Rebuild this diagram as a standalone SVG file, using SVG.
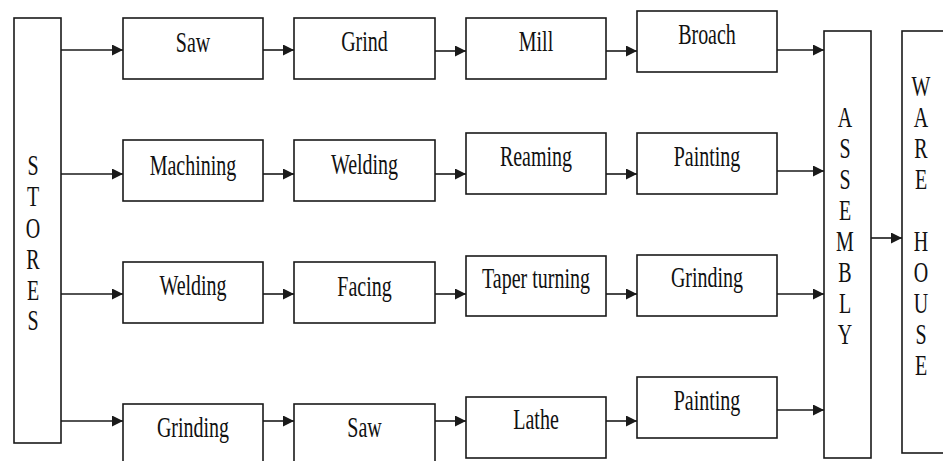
<svg xmlns="http://www.w3.org/2000/svg" width="943" height="461" viewBox="0 0 943 461">
  <style>
    .box { fill: #ffffff; stroke: #1a1a1a; stroke-width: 1.6; }
    .lbl { font-family: "Liberation Serif", "Times New Roman", serif; font-size: 20px; fill: #111111; text-anchor: middle; }
    .wire { stroke: #1a1a1a; stroke-width: 1.6; fill: none; marker-end: url(#head); }
  </style>
  <defs>
    <marker id="head" markerUnits="userSpaceOnUse" viewBox="0 0 11 11" markerWidth="11" markerHeight="11" refX="11" refY="5.5" orient="auto">
      <path d="M0,0 L11,5.5 L0,11 z" fill="#1a1a1a"/>
    </marker>
  </defs>
  <rect width="943" height="461" fill="#ffffff"/>

  <!-- connectors -->
  <g id="connectors">
    <!-- stores to first column -->
    <line class="wire" x1="61" y1="50" x2="123" y2="50"/>
    <line class="wire" x1="61" y1="174" x2="123" y2="174"/>
    <line class="wire" x1="61" y1="294" x2="123" y2="294"/>
    <line class="wire" x1="61" y1="421" x2="123" y2="421"/>
    <!-- column 1 to column 2 -->
    <line class="wire" x1="263" y1="50" x2="294" y2="50"/>
    <line class="wire" x1="263" y1="174" x2="294" y2="174"/>
    <line class="wire" x1="263" y1="294" x2="294" y2="294"/>
    <line class="wire" x1="263" y1="421" x2="294" y2="421"/>
    <!-- column 2 to column 3 -->
    <line class="wire" x1="435" y1="51" x2="466" y2="51"/>
    <line class="wire" x1="435" y1="174" x2="466" y2="174"/>
    <line class="wire" x1="435" y1="294" x2="466" y2="294"/>
    <line class="wire" x1="435" y1="421" x2="466" y2="421"/>
    <!-- column 3 to column 4 -->
    <line class="wire" x1="606" y1="51" x2="637" y2="51"/>
    <line class="wire" x1="606" y1="174" x2="637" y2="174"/>
    <line class="wire" x1="606" y1="294" x2="637" y2="294"/>
    <line class="wire" x1="606" y1="421" x2="637" y2="421"/>
    <!-- column 4 to assembly -->
    <line class="wire" x1="777" y1="50" x2="824" y2="50"/>
    <line class="wire" x1="777" y1="171" x2="824" y2="171"/>
    <line class="wire" x1="777" y1="294" x2="824" y2="294"/>
    <line class="wire" x1="777" y1="410" x2="824" y2="410"/>
    <!-- assembly to warehouse -->
    <line class="wire" x1="871" y1="238" x2="902" y2="238"/>
  </g>

  <!-- stores -->
  <g id="stores">
    <rect class="box" x="14" y="18" width="47" height="425"/>
    <text class="lbl" transform="translate(33,175) scale(1,1.45)">S</text>
    <text class="lbl" transform="translate(33,206) scale(1,1.45)">T</text>
    <text class="lbl" transform="translate(33,238) scale(1,1.45)">O</text>
    <text class="lbl" transform="translate(33,269) scale(1,1.45)">R</text>
    <text class="lbl" transform="translate(33,300) scale(1,1.45)">E</text>
    <text class="lbl" transform="translate(33,330) scale(1,1.45)">S</text>
  </g>

  <!-- row 1 -->
  <g id="saw1">
    <rect class="box" x="123" y="18" width="140" height="61"/>
    <text class="lbl" transform="translate(193,52) scale(1,1.45)">Saw</text>
  </g>
  <g id="grind">
    <rect class="box" x="294" y="18" width="141" height="61"/>
    <text class="lbl" transform="translate(364.5,51) scale(1,1.45)">Grind</text>
  </g>
  <g id="mill">
    <rect class="box" x="466" y="18" width="140" height="61"/>
    <text class="lbl" transform="translate(536,51) scale(1,1.45)">Mill</text>
  </g>
  <g id="broach">
    <rect class="box" x="637" y="11" width="140" height="61"/>
    <text class="lbl" transform="translate(707,44) scale(1,1.45)">Broach</text>
  </g>

  <!-- row 2 -->
  <g id="machining">
    <rect class="box" x="123" y="140" width="140" height="61"/>
    <text class="lbl" transform="translate(193,175) scale(1,1.45)">Machining</text>
  </g>
  <g id="welding2">
    <rect class="box" x="294" y="140" width="141" height="61"/>
    <text class="lbl" transform="translate(364.5,174) scale(1,1.45)">Welding</text>
  </g>
  <g id="reaming">
    <rect class="box" x="466" y="133" width="140" height="61"/>
    <text class="lbl" transform="translate(536,166) scale(1,1.45)">Reaming</text>
  </g>
  <g id="painting2">
    <rect class="box" x="637" y="133" width="140" height="61"/>
    <text class="lbl" transform="translate(707,166) scale(1,1.45)">Painting</text>
  </g>

  <!-- row 3 -->
  <g id="welding3">
    <rect class="box" x="123" y="262" width="140" height="61"/>
    <text class="lbl" transform="translate(193,295) scale(1,1.45)">Welding</text>
  </g>
  <g id="facing">
    <rect class="box" x="294" y="262" width="141" height="61"/>
    <text class="lbl" transform="translate(364.5,296) scale(1,1.45)">Facing</text>
  </g>
  <g id="taper-turning">
    <rect class="box" x="466" y="256" width="140" height="60"/>
    <text class="lbl" transform="translate(536,288) scale(1,1.45)">Taper turning</text>
  </g>
  <g id="grinding3">
    <rect class="box" x="637" y="255" width="140" height="61"/>
    <text class="lbl" transform="translate(707,287) scale(1,1.45)">Grinding</text>
  </g>

  <!-- row 4 -->
  <g id="grinding4">
    <rect class="box" x="123" y="404" width="140" height="70"/>
    <text class="lbl" transform="translate(193,437) scale(1,1.45)">Grinding</text>
  </g>
  <g id="saw4">
    <rect class="box" x="294" y="404" width="141" height="70"/>
    <text class="lbl" transform="translate(364.5,437) scale(1,1.45)">Saw</text>
  </g>
  <g id="lathe">
    <rect class="box" x="466" y="397" width="140" height="61"/>
    <text class="lbl" transform="translate(536,429) scale(1,1.45)">Lathe</text>
  </g>
  <g id="painting4">
    <rect class="box" x="637" y="377" width="140" height="61"/>
    <text class="lbl" transform="translate(707,410) scale(1,1.45)">Painting</text>
  </g>

  <!-- assembly -->
  <g id="assembly">
    <rect class="box" x="824" y="31" width="47" height="427"/>
    <text class="lbl" transform="translate(845,127) scale(1,1.45)">A</text>
    <text class="lbl" transform="translate(845,158) scale(1,1.45)">S</text>
    <text class="lbl" transform="translate(845,189) scale(1,1.45)">S</text>
    <text class="lbl" transform="translate(845,220) scale(1,1.45)">E</text>
    <text class="lbl" transform="translate(845,251) scale(1,1.45)">M</text>
    <text class="lbl" transform="translate(845,282) scale(1,1.45)">B</text>
    <text class="lbl" transform="translate(845,313) scale(1,1.45)">L</text>
    <text class="lbl" transform="translate(845,344) scale(1,1.45)">Y</text>
  </g>

  <!-- warehouse -->
  <g id="warehouse">
    <rect class="box" x="902" y="31" width="46" height="422"/>
    <text class="lbl" transform="translate(921,96) scale(1,1.45)">W</text>
    <text class="lbl" transform="translate(921,127) scale(1,1.45)">A</text>
    <text class="lbl" transform="translate(921,158) scale(1,1.45)">R</text>
    <text class="lbl" transform="translate(921,189) scale(1,1.45)">E</text>
    <text class="lbl" transform="translate(921,251) scale(1,1.45)">H</text>
    <text class="lbl" transform="translate(921,282) scale(1,1.45)">O</text>
    <text class="lbl" transform="translate(921,313) scale(1,1.45)">U</text>
    <text class="lbl" transform="translate(921,344) scale(1,1.45)">S</text>
    <text class="lbl" transform="translate(921,375) scale(1,1.45)">E</text>
  </g>
</svg>
